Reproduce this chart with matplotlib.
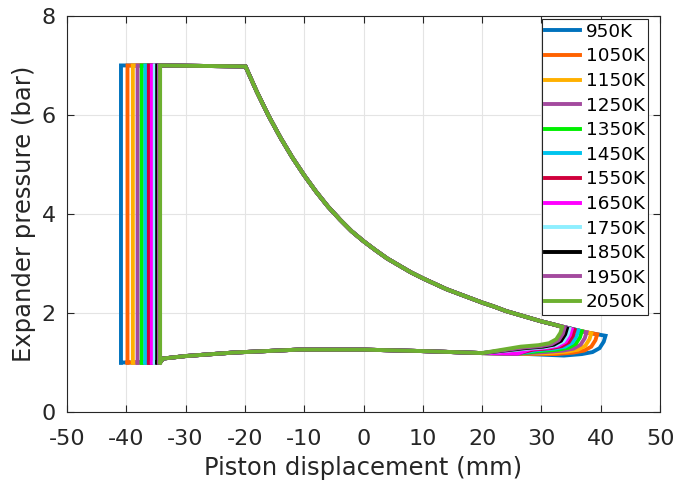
import numpy as np
import matplotlib
matplotlib.use("Agg")
import matplotlib.pyplot as plt

# inlet temperatures and the plot colour for each run
labels = ["950K", "1050K", "1150K", "1250K", "1350K", "1450K",
          "1550K", "1650K", "1750K", "1850K", "1950K", "2050K"]
colors = ["#0072BD", "#FF6200", "#FFB000", "#A34A9E", "#00F000", "#00C4EE",
          "#D0003C", "#FF00FF", "#8EEFFF", "#000000", "#A34A9E", "#6DB030"]

# piston position at the left turn (intake) and right turn (tip of the loop)
x_left = [-40.9, -39.8, -38.9, -38.1, -37.4, -36.8, -36.2, -35.7, -35.2, -34.8, -34.5, -34.3]
x_right = [40.8, 39.4, 38.4, 37.6, 36.8, 36.2, 35.6, 35.1, 34.7, 34.3, 33.9, 33.5]
p_tip = [1.54, 1.57, 1.59, 1.61, 1.63, 1.65, 1.66, 1.67, 1.68, 1.69, 1.70, 1.72]

p_high = 7.0
p_low = 1.0
x_valve = -34.3

# expansion stroke (common to all runs)
exp_x = [-19.9, -18, -16, -14, -12, -10, -8, -6, -4, -2, 0, 2, 4, 6, 8, 10,
         12, 14, 16, 18, 20, 22, 24, 26, 28, 30, 32, 34, 36, 38, 40]
exp_p = [6.98, 6.47, 5.98, 5.54, 5.14, 4.78, 4.45, 4.15, 3.89, 3.65, 3.45,
         3.27, 3.10, 2.96, 2.82, 2.70, 2.59, 2.48, 2.39, 2.30, 2.21, 2.13,
         2.04, 1.97, 1.90, 1.83, 1.77, 1.71, 1.65, 1.60, 1.56]

# rounded turn at the end of the stroke, relative to the tip
nose_dx = [0.0, -0.3, -1.0, -2.2, -4.0, -7.0]
nose_dp = [0.0, -0.12, -0.25, -0.33, -0.37, -0.40]

# compression stroke back to the valve
cmp_x = [26.0, 20.0, 10.0, 0.0, -11.0, -22.0, -30.0, -33.8, -34.3]
cmp_p = [1.18, 1.19, 1.23, 1.26, 1.26, 1.20, 1.13, 1.08, 1.00]


def loop(i):
    xr, pr = x_right[i], p_tip[i]
    xs = [x_left[i], x_left[i], x_valve]
    ps = [p_low, p_high, p_high]
    for x, p in zip(exp_x, exp_p):
        if x < xr - 1.0:
            xs.append(x)
            ps.append(p)
    for dx, dp in zip(nose_dx, nose_dp):
        xs.append(xr + dx)
        ps.append(pr + dp)
    for x, p in zip(cmp_x, cmp_p):
        if x < xr - 9:
            xs.append(x)
            ps.append(p)
    xs.append(x_left[i])
    ps.append(p_low)
    return xs, ps


plt.rcParams['font.family'] = ['DejaVu Sans']
plt.rcParams['axes.unicode_minus'] = False
fig = plt.figure(figsize=(6.88, 4.83), dpi=100)
ax = fig.add_axes([0.0974, 0.147, 0.862, 0.82])

for i in range(len(labels)):
    xs, ps = loop(i)
    ax.plot(xs, ps, color=colors[i], lw=2.8, label=labels[i],
            solid_joinstyle='miter')

ax.set_xlim(-50, 50)
ax.set_ylim(0, 8)
ax.set_xticks(np.arange(-50, 51, 10))
ax.set_yticks(np.arange(0, 9, 2))
ax.grid(True, color='#e4e4e4', lw=0.8)
ax.set_axisbelow(True)
ax.tick_params(direction='in', top=True, right=True, length=5,
               labelsize=16, colors='#262626', width=0.8)
ax.tick_params(axis='x', pad=12)
ax.tick_params(axis='y', pad=8)
for s in ax.spines.values():
    s.set_color('#262626')
    s.set_linewidth(0.8)

ax.set_xlabel("Piston displacement (mm)", fontsize=17.5, color='#262626', labelpad=5)
ax.set_ylabel("Expander pressure (bar)", fontsize=17.5, color='#262626', labelpad=4)

leg = ax.legend(loc='upper right', bbox_to_anchor=(0.98, 0.992), fontsize=13.2,
                frameon=True, fancybox=False, edgecolor='#262626', framealpha=1,
                handlelength=1.9, handletextpad=0.3, labelspacing=0.36,
                borderpad=0.2, borderaxespad=0.0)
leg.get_frame().set_linewidth(0.8)

fig.savefig("out.png", dpi=100)
